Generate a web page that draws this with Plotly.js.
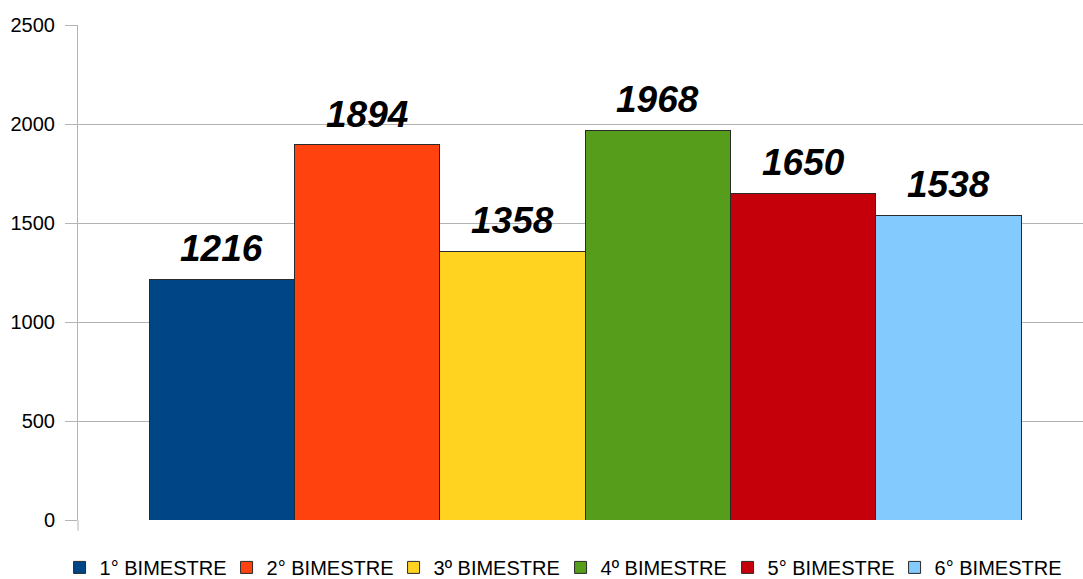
<!DOCTYPE html>
<html>
<head>
<meta charset="utf-8">
<script src="https://cdn.plot.ly/plotly-3.0.1.min.js"></script>
<style>html,body{margin:0;padding:0;background:#fff;}#chart{width:1083px;height:579px;}</style>
</head>
<body>
<div id="chart"></div>
<script>
const categories = ["1° BIMESTRE", "2° BIMESTRE", "3º BIMESTRE", "4º BIMESTRE", "5° BIMESTRE", "6° BIMESTRE"];
const values = [1216, 1894, 1358, 1968, 1650, 1538];
const colors = ["#004586", "#ff420e", "#ffd320", "#579d1c", "#c5000b", "#83caff"];
const yTicks = [0, 500, 1000, 1500, 2000, 2500];

const traces = categories.map((c, i) => ({
  type: 'bar',
  name: c,
  x: [i],
  y: [values[i]],
  marker: {color: colors[i], line: {color: '#2a2a2a', width: 1}},
  hoverinfo: 'skip'
}));

const annotations = categories.map((c, i) => ({
  x: i, y: values[i], xref: 'x', yref: 'y',
  text: String(values[i]),
  showarrow: false, yanchor: 'bottom', yshift: 8,
  font: {family: 'Liberation Sans, Arial, sans-serif', size: 37, color: '#000', weight: 'bold', style: 'italic'}
}));

const layout = {
  width: 1083, height: 579,
  margin: {l: 78, r: 0, t: 25, b: 59},
  paper_bgcolor: '#fff', plot_bgcolor: '#fff',
  barmode: 'stack', bargap: 0,
  font: {family: 'Liberation Sans, Arial, sans-serif', size: 20, color: '#000'},
  xaxis: {range: [-0.99, 5.925], showticklabels: false, showgrid: false, zeroline: false, ticks: '', fixedrange: true},
  yaxis: {range: [0, 2500], tickvals: yTicks, ticktext: yTicks.map(String), showgrid: true, gridcolor: '#b3b3b3', gridwidth: 1,
          zeroline: false, showline: true, linecolor: '#b3b3b3', linewidth: 1, ticks: 'outside', ticklen: 12, tickcolor: '#b3b3b3',
          ticklabelstandoff: 6, tickfont: {size: 20, color: '#000'}, fixedrange: true},
  showlegend: true,
  legend: {orientation: 'h', xref: 'container', yref: 'container', x: 0.055, xanchor: 'left', y: 0.02, yanchor: 'middle',
           entrywidth: 122, entrywidthmode: 'pixels', font: {size: 20, color: '#000'}, traceorder: 'normal'},
  annotations: annotations,
  shapes: [{type: 'line', xref: 'paper', yref: 'paper', x0: 0, x1: 0, y0: 0, y1: -0.022, line: {color: '#b3b3b3', width: 1}}]
};

Plotly.newPlot('chart', traces, layout, {displayModeBar: false, staticPlot: true});
</script>
</body>
</html>
